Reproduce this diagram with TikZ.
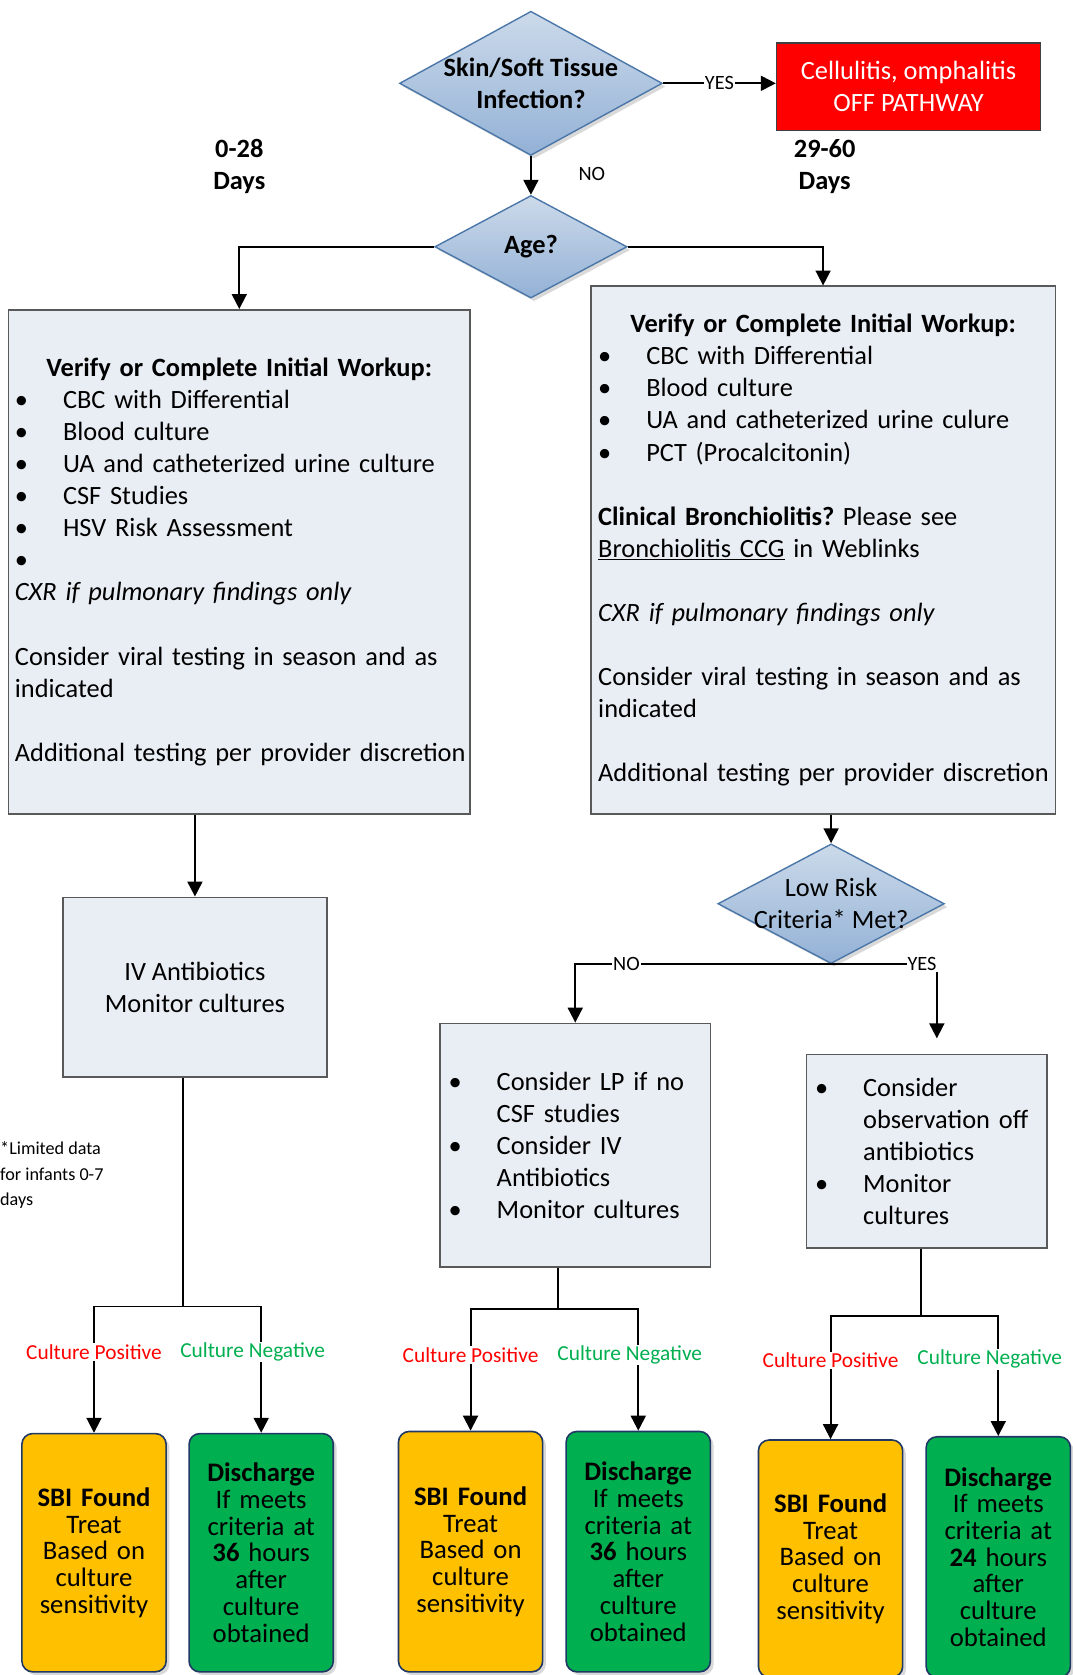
\documentclass[tikz,border=0pt]{standalone}
\usepackage{fontspec}
\setmainfont{Carlito}
\usetikzlibrary{shapes.geometric, arrows.meta, shadows}
\frenchspacing
\hyphenpenalty=10000
\exhyphenpenalty=10000

\definecolor{boxfill}{HTML}{E9EDF4}
\definecolor{boxline}{HTML}{595959}
\definecolor{dmdline}{HTML}{4A76A8}
\definecolor{dmdtop}{HTML}{CCDAEA}
\definecolor{dmdbot}{HTML}{93B1D6}
\definecolor{offfill}{HTML}{FF0000}
\definecolor{offline}{HTML}{404040}
\definecolor{sbifill}{HTML}{FFC000}
\definecolor{disfill}{HTML}{00B050}
\definecolor{endline}{HTML}{203864}
\definecolor{posred}{HTML}{FF0000}
\definecolor{neggreen}{HTML}{00B050}

\newcommand{\bodyfont}{\fontsize{24.7}{30}\selectfont}
\newcommand{\outfont}{\fontsize{25}{25}\selectfont}
\newcommand{\lblfont}{\fontsize{19}{19}\selectfont}
\newcommand{\bul}[1]{\makebox[45pt][l]{\textbullet}#1}
\newcommand{\ind}[1]{\hspace*{45pt}#1}

\tikzset{
  conn/.style={line width=1.8pt},
  arr/.style={conn, -{Triangle[width=14pt,length=14pt]}},
  shadowed/.style={drop shadow={shadow xshift=3pt, shadow yshift=-3pt, opacity=0.3}},
  decision/.style={diamond, draw=dmdline, line width=1.3pt, top color=dmdtop,
    bottom color=dmdbot, inner sep=-8pt, font=\bodyfont, align=center, shadowed},
  workbox/.style={rectangle, draw=boxline, fill=boxfill, line width=1.5pt,
    font=\bodyfont, align=left},
  endbox/.style={rectangle, rounded corners=10pt, draw=endline, line width=1.5pt,
    font=\outfont, align=center, text width=125pt, inner xsep=5pt, shadowed},
  sbi/.style={endbox, fill=sbifill},
  dis/.style={endbox, fill=disfill},
  lbl/.style={fill=white, inner sep=1pt, font=\lblfont},
  cpos/.style={fill=white, inner sep=1pt, text=posred, font=\fontsize{20}{20}\selectfont},
  cneg/.style={fill=white, inner sep=1pt, text=neggreen, font=\fontsize{20}{20}\selectfont, xshift=-8pt},
}

\begin{document}
\begin{tikzpicture}[x=1pt, y=-1pt]
\useasboundingbox (0,0) rectangle (1004,1568);

% top of the pathway
\node[decision, aspect=1.82, minimum width=246pt, minimum height=135pt] (skin) at (497,78)
  {\textbf{Skin/Soft Tissue}\\\textbf{Infection?}};
\node[rectangle, draw=offline, fill=offfill, text=white, line width=1.5pt, minimum width=247pt,
  minimum height=82pt, font=\bodyfont, align=center] (off) at (850.5,81)
  {Cellulitis, omphalitis\\OFF PATHWAY};
\node[font=\bodyfont\bfseries, align=center] (young) at (224,156) {0-28\\Days};
\node[font=\bodyfont\bfseries, align=center] (old) at (772,156) {29-60\\Days};
\node[font=\lblfont] (no) at (554,163) {NO};
\node[decision, aspect=1.875, minimum width=180pt, minimum height=96pt] (age) at (497,231) {\textbf{Age?}};

% initial workup
\node[workbox, minimum width=432pt, minimum height=472pt, text width=420pt, inner xsep=6pt] (work0) at (224,526)
  {\makebox[\linewidth]{\textbf{Verify or Complete Initial Workup:}}\\
   \bul{CBC with Differential}\\
   \bul{Blood culture}\\
   \bul{UA and catheterized urine culture}\\
   \bul{CSF Studies}\\
   \bul{HSV Risk Assessment}\\
   \bul{}\\
   \textit{CXR if pulmonary findings only}\\[30pt]
   Consider viral testing in season and as\\
   indicated\\[30pt]
   \mbox{Additional testing per provider discretion}};
\node[workbox, minimum width=435pt, minimum height=494pt, text width=421pt, inner xsep=7pt] (work1) at (770.5,515)
  {\makebox[\linewidth]{\textbf{Verify or Complete Initial Workup:}}\\
   \bul{CBC with Differential}\\
   \bul{Blood culture}\\
   \bul{UA and catheterized urine culure}\\
   \bul{PCT (Procalcitonin)}\\[30pt]
   \textbf{Clinical Bronchiolitis?} Please see\\
   \underline{Bronchiolitis CCG} in Weblinks\\[30pt]
   \textit{CXR if pulmonary findings only}\\[30pt]
   Consider viral testing in season and as\\
   indicated\\[30pt]
   \mbox{Additional testing per provider discretion}};

% middle
\node[workbox, align=center, minimum width=247pt, minimum height=168pt] (iv) at (182.5,924)
  {IV Antibiotics\\Monitor cultures};
\node[decision, aspect=1.89, minimum width=212pt, minimum height=112pt] (risk) at (778,846)
  {Low Risk\\Criteria* Met?};
\node[workbox, minimum width=253pt, minimum height=228pt, text width=237pt, inner xsep=8pt] (nobox) at (538.5,1072)
  {\bul{Consider LP if no}\\
   \ind{CSF studies}\\
   \bul{Consider IV}\\
   \ind{Antibiotics}\\
   \bul{Monitor cultures}};
\node[workbox, minimum width=225pt, minimum height=181pt, text width=209pt, inner xsep=8pt] (yesbox) at (867.5,1077.5)
  {\bul{Consider}\\
   \ind{observation off}\\
   \ind{antibiotics}\\
   \bul{Monitor}\\
   \ind{cultures}};
\node[anchor=west, align=left, inner sep=0pt, font=\fontsize{17}{24}\selectfont] (note) at (0,1100)
  {*Limited data\\for infants 0-7\\days};

% outcomes
\node[sbi, minimum height=223pt] (sbi0) at (88,1453.5) {\textbf{SBI Found}\\Treat\\Based on\\culture\\sensitivity};
\node[dis, minimum height=223pt] (dis0) at (244.5,1453.5) {\textbf{Discharge}\\If meets\\criteria at\\\textbf{36} hours\\after\\culture\\obtained};
\node[sbi, minimum height=225pt] (sbi1) at (440.5,1452.5) {\textbf{SBI Found}\\Treat\\Based on\\culture\\sensitivity};
\node[dis, minimum height=225pt] (dis1) at (597.5,1452.5) {\textbf{Discharge}\\If meets\\criteria at\\\textbf{36} hours\\after\\culture\\obtained};
\node[sbi, minimum height=222pt] (sbi2) at (777.5,1459) {\textbf{SBI Found}\\Treat\\Based on\\culture\\sensitivity};
\node[dis, minimum height=225pt] (dis2) at (934.5,1457.5) {\textbf{Discharge}\\If meets\\criteria at\\\textbf{24} hours\\after\\culture\\obtained};

\coordinate (yestip) at (877,972);
\coordinate (f0) at (171,1223);
\coordinate (f1) at (522,1225);
\coordinate (f2) at (862,1232);

\draw[arr] (skin.east) -- node[lbl]{YES} (skin.east -| off.west);
\draw[arr] (skin.south) -- (age.north);
\draw[arr] (age.west) -| (work0.north);
\draw[arr] (age.east) -| (work1.north);
\draw[arr] (work0.south -| iv.north) -- (iv.north);
\draw[arr] (work1.south -| risk.north) -- (risk.north);
\draw[arr] (risk.south) -| node[lbl, pos=0.40]{NO} (nobox.north);
\draw[arr] (risk.south) -| node[lbl, pos=0.43]{YES} (yestip);

\draw[conn] (iv.south -| f0) -- (f0);
\draw[arr] (f0) -| node[cpos, pos=0.68]{Culture Positive} (sbi0.north);
\draw[arr] (f0) -| node[cneg, pos=0.68]{Culture Negative} (dis0.north);
\draw[conn] (nobox.south -| f1) -- (f1);
\draw[arr] (f1) -| node[cpos, pos=0.69]{Culture Positive} (sbi1.north);
\draw[arr] (f1) -| node[cneg, pos=0.69]{Culture Negative} (dis1.north);
\draw[conn] (yesbox.south -| f2) -- (f2);
\draw[arr] (f2) -| node[cpos, pos=0.68]{Culture Positive} (sbi2.north);
\draw[arr] (f2) -| node[cneg, pos=0.68]{Culture Negative} (dis2.north);
\end{tikzpicture}
\end{document}
